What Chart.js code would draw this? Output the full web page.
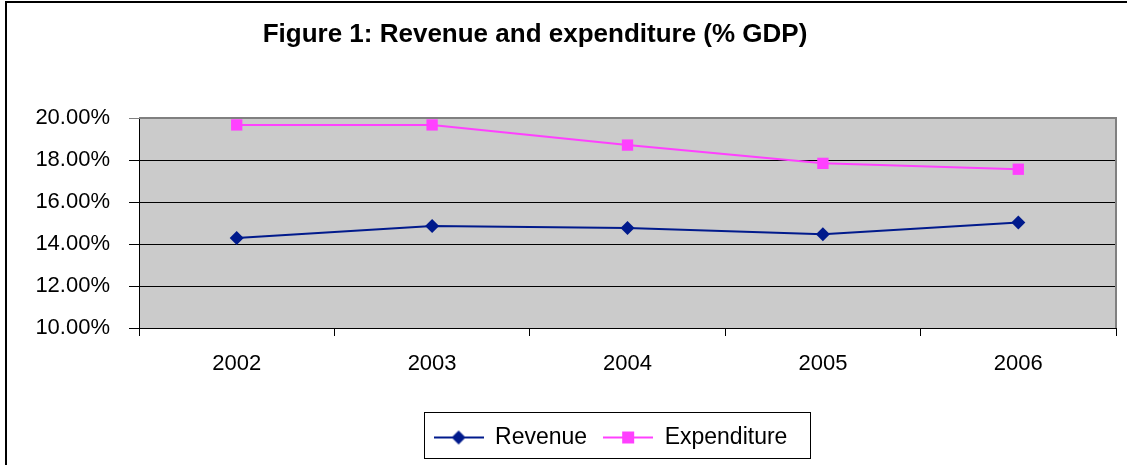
<!DOCTYPE html>
<html>
<head>
<meta charset="utf-8">
<script src="https://cdn.jsdelivr.net/npm/chart.js@4.4.1/dist/chart.umd.min.js"></script>
<style>
  html, body { margin: 0; padding: 0; background: #ffffff; }
  #wrap { width: 1127px; height: 465px; position: relative; }
</style>
</head>
<body>
<div id="wrap"><canvas id="grafico" width="1127" height="465"></canvas></div>
<script>
const years = ["2002", "2003", "2004", "2005", "2006"];
const revenue = [14.29, 14.86, 14.76, 14.46, 15.02];
const expenditure = [19.67, 19.67, 18.71, 17.84, 17.56];
const yTicks = [10, 12, 14, 16, 18, 20];

const colorRevenue = "#001a8c";
const colorExpenditure = "#ff40ff";
const fuente = "'Liberation Sans', Arial, sans-serif";

// small picture of line + marker for the legend
function legendIcon(color, style) {
  const c = document.createElement("canvas");
  c.width = 50; c.height = 20;
  const g = c.getContext("2d");
  g.strokeStyle = color;
  g.lineWidth = 2;
  g.beginPath(); g.moveTo(0, 10); g.lineTo(50, 10); g.stroke();
  g.fillStyle = color;
  if (style === "rectRot") {
    g.beginPath();
    g.moveTo(25, 3); g.lineTo(32, 10); g.lineTo(25, 17); g.lineTo(18, 10);
    g.closePath(); g.fill();
  } else {
    g.fillRect(19, 4, 12, 12);
  }
  return c;
}

const fondoYMarco = {
  id: "fondoYMarco",
  afterLayout(chart) {
    // the legend sits a little left of the plot centre
    chart.legend.left -= 17;
    chart.legend.right -= 17;
  },
  beforeDraw(chart) {
    const { ctx, chartArea: a } = chart;
    ctx.save();
    ctx.fillStyle = "#ffffff";
    ctx.fillRect(0, 0, chart.width, chart.height);
    ctx.fillStyle = "#cbcbcb";
    ctx.fillRect(a.left, a.top, a.right - a.left, a.bottom - a.top);
    // outer frame
    ctx.strokeStyle = "#000000";
    ctx.lineWidth = 2;
    ctx.beginPath();
    ctx.moveTo(6, chart.height + 5);
    ctx.lineTo(6, 2);
    ctx.lineTo(chart.width + 5, 2);
    ctx.stroke();
    ctx.restore();
  },
  afterDraw(chart) {
    const { ctx, chartArea: a } = chart;
    ctx.save();
    ctx.strokeStyle = "#808080";
    ctx.lineWidth = 2;
    ctx.beginPath();
    ctx.moveTo(a.left, a.top);
    ctx.lineTo(a.right, a.top);
    ctx.lineTo(a.right, a.bottom);
    ctx.stroke();
    // title
    ctx.fillStyle = "#000000";
    ctx.font = "bold 26px " + fuente;
    ctx.textAlign = "center";
    ctx.textBaseline = "middle";
    ctx.fillText("Figure 1: Revenue and expenditure (% GDP)", 535, 35);
    // legend box
    const boxes = chart.legend.legendHitBoxes;
    if (boxes && boxes.length) {
      const left = Math.min(...boxes.map(b => b.left)) - 10;
      const right = Math.max(...boxes.map(b => b.left + b.width)) + 22;
      const top = 412;
      const bottom = 458;
      ctx.strokeStyle = "#000000";
      ctx.lineWidth = 1;
      ctx.strokeRect(Math.round(left) + 0.5, top + 0.5, Math.round(right - left), bottom - top);
    }
    ctx.restore();
  }
};

const ctx = document.getElementById("grafico").getContext("2d");

const grafico = new Chart(ctx, {
  type: "line",
  data: {
    labels: years,
    datasets: [{
      label: "Revenue",
      data: revenue,
      borderColor: colorRevenue,
      backgroundColor: colorRevenue,
      borderWidth: 2,
      tension: 0,
      pointStyle: "rectRot",
      pointRadius: 7,
      pointBorderWidth: 0,
      pointBackgroundColor: colorRevenue
    }, {
      label: "Expenditure",
      data: expenditure,
      borderColor: colorExpenditure,
      backgroundColor: colorExpenditure,
      borderWidth: 2,
      tension: 0,
      pointStyle: "rect",
      pointRadius: 8,
      pointBorderWidth: 0,
      pointBackgroundColor: colorExpenditure
    }]
  },
  options: {
    responsive: false,
    animation: false,
    layout: { padding: { left: 0, right: 11, top: 118, bottom: 6 } },
    plugins: {
      title: { display: false },
      tooltip: { enabled: false },
      legend: {
        position: "bottom",
        fullSize: false,
        labels: {
          color: "#000000",
          font: { size: 23, family: fuente },
          usePointStyle: true,
          pointStyleWidth: 50,
          boxHeight: 20,
          padding: 16,
          generateLabels: function(chart) {
            return chart.data.datasets.map((ds, i) => ({
              text: ds.label,
              fillStyle: ds.borderColor,
              strokeStyle: ds.borderColor,
              fontColor: "#000000",
              lineWidth: 0,
              pointStyle: legendIcon(ds.borderColor, ds.pointStyle),
              datasetIndex: i,
              hidden: false
            }));
          }
        }
      }
    },
    scales: {
      x: {
        offset: true,
        grid: {
          offset: true,
          drawOnChartArea: false,
          drawTicks: true,
          tickLength: 8,
          color: "#000000",
          lineWidth: 1
        },
        border: { color: "#000000", width: 1 },
        ticks: {
          color: "#000000",
          padding: 15,
          font: { size: 22, family: fuente }
        },
        afterFit(scale) { scale.height = 82; }
      },
      y: {
        min: 10,
        max: 20,
        afterBuildTicks(scale) { scale.ticks = yTicks.map(v => ({ value: v })); },
        grid: {
          color: (c) => c.tick && c.tick.value === 20 ? "#808080" : "#000000",
          lineWidth: 1,
          tickLength: 10
        },
        border: { color: "#000000", width: 1 },
        ticks: {
          color: "#000000",
          padding: 19,
          font: { size: 22, family: fuente },
          callback: (v) => Number(v).toFixed(2) + "%"
        },
        afterFit(scale) { scale.width = 139; }
      }
    }
  },
  plugins: [fondoYMarco]
});
</script>
</body>
</html>
